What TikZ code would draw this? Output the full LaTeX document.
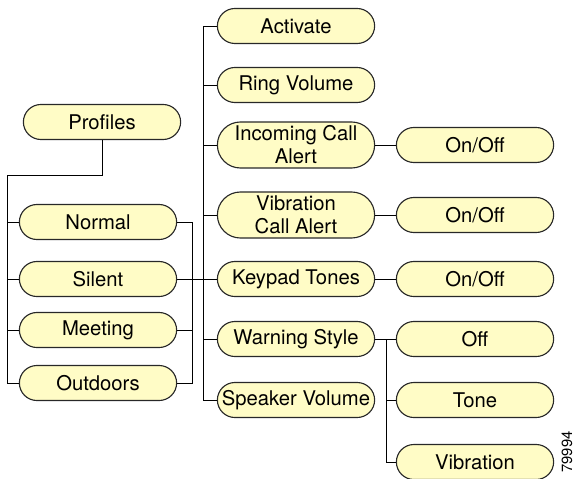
\documentclass[tikz,border=0pt]{standalone}
\usepackage{fontspec}
\setmainfont{TeX Gyre Heros}
\usetikzlibrary{shapes.misc}
\definecolor{boxfill}{RGB}{255,252,198}
\definecolor{boxline}{RGB}{40,40,40}
\tikzset{
  item/.style={rounded rectangle, draw=boxline, line width=0.8pt, fill=boxfill,
    minimum width=4cm, minimum height=0.875cm, inner sep=1pt, align=center,
    font=\fontsize{14.4}{16.3}\selectfont},
  tall/.style={minimum height=1.15cm},
  link/.style={line width=0.5pt}
}
\begin{document}
\begin{tikzpicture}[x=0.025cm, y=-0.025cm]
  \useasboundingbox (0,0) rectangle (576,478);
  % profile modes
  \node[item] (prof) at (102,122) {Profiles};
  \node[item] (norm) at (98,222) {Normal};
  \node[item] (sil) at (98,279) {Silent};
  \node[item] (meet) at (98,330) {Meeting};
  \node[item] (outd) at (98,383) {Outdoors};

  % settings
  \node[item] (act) at (296,26) {Activate};
  \node[item] (ring) at (296,85) {Ring Volume};
  \node[item, tall] (inc) at (296,145) {Incoming Call\\Alert};
  \node[item, tall] (vibc) at (296,215) {Vibration\\Call Alert};
  \node[item] (keyp) at (296,279) {Keypad Tones};
  \node[item] (warn) at (296,339) {Warning Style};
  \node[item] (spk) at (296,400) {Speaker Volume};

  % values
  \node[item] (oo1) at (475,145) {On/Off};
  \node[item] (oo2) at (475,215) {On/Off};
  \node[item] (oo3) at (475,279) {On/Off};
  \node[item] (off) at (475,339) {Off};
  \node[item] (tone) at (475,400) {Tone};
  \node[item] (vib) at (475,462) {Vibration};

  \coordinate (pb) at (7,175); \coordinate (rb) at (192,0);
  \coordinate (mb) at (203,0); \coordinate (wb) at (386,0);

  \draw[link] (prof.south) |- (pb) |- (outd.west);
  \draw[link] (pb |- norm.west) -- (norm.west);
  \draw[link] (pb |- sil.west) -- (sil.west);
  \draw[link] (pb |- meet.west) -- (meet.west);

  \draw[link] (norm.east) -| (rb |- outd.east) -- (outd.east);
  \draw[link] (meet.east) -- (rb |- meet.east);
  \draw[link] (sil.east) -- (keyp.west);

  \draw[link] (act.west) -| (mb |- spk.west) -- (spk.west);
  \draw[link] (mb |- ring.west) -- (ring.west);
  \draw[link] (mb |- inc.west) -- (inc.west);
  \draw[link] (mb |- vibc.west) -- (vibc.west);
  \draw[link] (mb |- warn.west) -- (warn.west);

  \draw[link] (inc.east) -- (oo1.west);
  \draw[link] (vibc.east) -- (oo2.west);
  \draw[link] (keyp.east) -- (oo3.west);
  \draw[link] (warn.east) -- (off.west);
  \draw[link] (wb |- warn.east) |- (vib.west);
  \draw[link] (wb |- tone.west) -- (tone.west);

  \node[rotate=90, inner sep=0pt, font=\fontsize{10.5}{11}\selectfont] (num) at (567,452) {79994};
\end{tikzpicture}
\end{document}
